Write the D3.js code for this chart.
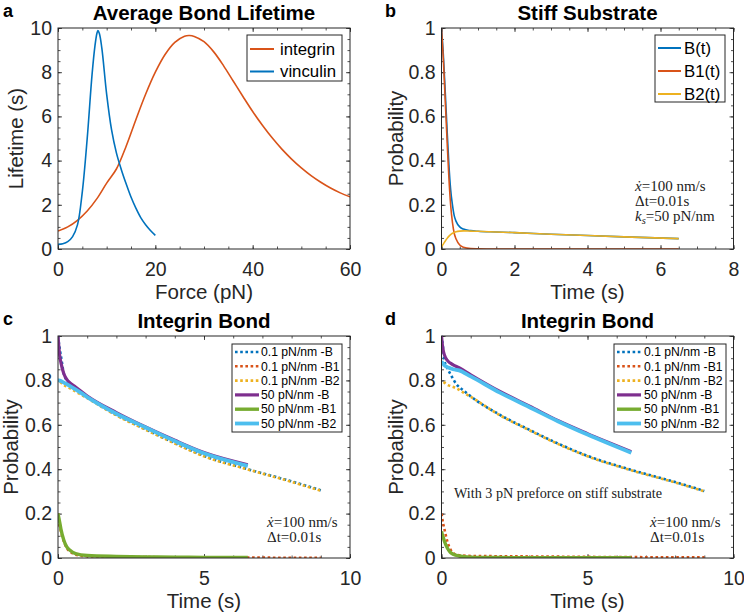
<!DOCTYPE html>
<html><head><meta charset="utf-8">
<script src="https://cdn.jsdelivr.net/npm/d3@7"></script>
<style>body{margin:0;background:#fff}svg{display:block}</style>
</head><body>
<svg id="c" width="744" height="613"></svg>
<script>
// ---------- DATA ----------
// Panel a
const intForce = [0,2,4,6,8,10,12,14,16,18,20,22,24,26,27,28,30,32,34,36,38,40,42,44,46,48,50,52,54,56,58,60];
const intLife  = [0.81,1.0,1.3,1.72,2.28,2.98,3.62,4.65,5.85,7.0,8.0,8.8,9.35,9.63,9.66,9.62,9.38,8.92,8.3,7.6,6.9,6.22,5.6,5.03,4.52,4.07,3.67,3.32,3.02,2.76,2.54,2.36];
const vinForce = [0,1,2,3,4,5,6,7,7.6,8,8.2,8.5,9,10,11,12,13,14,15,16,17,18,19,20];
const vinLife  = [0.21,0.24,0.33,0.56,1.09,2.6,5.0,7.9,9.2,9.76,9.88,9.75,9.1,7.0,5.4,4.35,3.6,2.95,2.35,1.85,1.42,1.1,0.84,0.62];
const legendA = ["integrin","vinculin"];
// Panel b
const tB   = [0,0.05,0.1,0.15,0.2,0.25,0.3,0.35,0.4,0.5,0.6,0.8,1,1.5,2,3,4,5,6.5];
const bB   = [1.0,0.88,0.72,0.55,0.39,0.27,0.2,0.15,0.125,0.1,0.09,0.083,0.08,0.077,0.074,0.067,0.061,0.055,0.047];
const bB1  = [1.0,0.86,0.68,0.5,0.33,0.2,0.12,0.07,0.045,0.018,0.008,0.002,0.001,0,0,0,0,0,0];
const bB2  = [0.01,0.022,0.035,0.047,0.057,0.065,0.071,0.075,0.078,0.081,0.082,0.081,0.08,0.077,0.074,0.067,0.061,0.055,0.047];
const legendB = ["B(t)","B1(t)","B2(t)"];
// Panel c
const tC01  = [0,0.05,0.1,0.2,0.3,0.4,0.6,1,2,3,4,5,6.5,8,9];
const c01B  = [1.0,0.95,0.91,0.83,0.8,0.785,0.765,0.725,0.645,0.58,0.518,0.46,0.40,0.345,0.305];
const c01B1 = [0.2,0.15,0.12,0.075,0.045,0.03,0.015,0.008,0.005,0.004,0.003,0.002,0.002,0.001,0.001];
const c01B2 = [0.8,0.797,0.79,0.78,0.772,0.765,0.75,0.72,0.642,0.578,0.516,0.458,0.399,0.343,0.303];
const tC50  = [0,0.03,0.06,0.1,0.2,0.3,0.4,0.6,1,2,3,4,5,6.5];
const c50B  = [1.0,0.95,0.91,0.88,0.83,0.805,0.79,0.77,0.73,0.655,0.59,0.53,0.475,0.42];
const c50B1 = [0.2,0.18,0.16,0.13,0.08,0.05,0.036,0.02,0.011,0.007,0.005,0.004,0.003,0.002];
const c50B2 = [0.8,0.8,0.799,0.797,0.79,0.783,0.775,0.76,0.725,0.65,0.588,0.527,0.472,0.415];
// Panel d
const tD01  = [0,0.05,0.1,0.2,0.3,0.5,0.75,1,2,3,4,5,6.5,8,9];
const d01B  = [1.0,0.95,0.89,0.855,0.83,0.785,0.755,0.728,0.645,0.578,0.515,0.46,0.397,0.342,0.302];
const d01B1 = [0.2,0.16,0.13,0.075,0.04,0.015,0.011,0.009,0.008,0.007,0.006,0.005,0.004,0.003,0.003];
const d01B2 = [0.8,0.795,0.79,0.78,0.775,0.765,0.745,0.726,0.643,0.576,0.513,0.458,0.395,0.34,0.3];
const tD50  = [0,0.03,0.06,0.1,0.2,0.3,0.4,0.6,1,2,3,4,5,6.5];
const d50B  = [1.0,0.96,0.935,0.915,0.89,0.878,0.87,0.857,0.825,0.75,0.685,0.618,0.56,0.479];
const d50B1 = [0.12,0.105,0.093,0.075,0.045,0.026,0.017,0.009,0.004,0.002,0.0015,0.001,0.001,0.001];
const d50B2 = [0.885,0.88,0.875,0.868,0.86,0.855,0.85,0.845,0.818,0.745,0.68,0.615,0.556,0.474];
const legendCD = ["0.1 pN/nm -B","0.1 pN/nm -B1","0.1 pN/nm -B2","50 pN/nm -B","50 pN/nm -B1","50 pN/nm -B2"];
// tick values
const ticksA_x = [0,20,40,60], ticksA_y = [0,2,4,6,8,10];
const ticksB_x = [0,2,4,6,8], ticksP_y = [0,0.2,0.4,0.6,0.8,1];
const ticksCD_x = [0,5,10];

// ---------- DRAW ----------
const C = {blue:"#0072BD",orange:"#D95319",yellow:"#EDB120",purple:"#7E2F8E",green:"#77AC30",cyan:"#4DBEEE"};
const svg = d3.select("#c");
const SANS = "'Liberation Sans', Arial, Helvetica, sans-serif";
const SERIF = "'Liberation Serif','DejaVu Serif',serif";
const AX = "#262626";
const TICKFS = 19.5, LABFS = 20.5, TITFS = 20.5;

function range(a,b,s){const o=[];for(let v=a;v<=b+1e-9;v+=s)o.push(+v.toFixed(6));return o;}

function panel(cfg){
  const g = svg.append("g");
  const x = d3.scaleLinear().domain(cfg.xd).range([cfg.l,cfg.r]);
  const y = d3.scaleLinear().domain(cfg.yd).range([cfg.b,cfg.t]);
  const fmt = d3.format("~g");
  const ax = (gen, tv, size, labels, tr, pad) => {
    const a = g.append("g").attr("transform",tr)
      .call(gen.tickValues(tv).tickSize(size).tickPadding(pad||0).tickFormat(labels?fmt:""));
    a.select(".domain").remove();
    a.selectAll("line").attr("stroke",AX).attr("stroke-width",0.8);
    a.selectAll("text").attr("fill",AX).attr("font-family",SANS).attr("font-size",TICKFS);
    return a;
  };
  const W = cfg.r-cfg.l, H = cfg.b-cfg.t;
  // minor
  ax(d3.axisBottom(x), cfg.xm, -2.5, false, `translate(0,${cfg.b})`);
  ax(d3.axisTop(x), cfg.xm, -2.5, false, `translate(0,${cfg.t})`);
  ax(d3.axisLeft(y), cfg.ym, -2.5, false, `translate(${cfg.l},0)`);
  ax(d3.axisRight(y), cfg.ym, -2.5, false, `translate(${cfg.r},0)`);
  // major
  ax(d3.axisBottom(x), cfg.xt, -4, true, `translate(0,${cfg.b})`, 13.5);
  ax(d3.axisTop(x), cfg.xt, -4, false, `translate(0,${cfg.t})`);
  ax(d3.axisLeft(y), cfg.yt, -4, true, `translate(${cfg.l},0)`, 6);
  ax(d3.axisRight(y), cfg.yt, -4, false, `translate(${cfg.r},0)`);
  // clip
  const id = "clip"+cfg.label;
  svg.append("clipPath").attr("id",id).append("rect").attr("x",cfg.l).attr("y",cfg.t-2).attr("width",W).attr("height",H+2);
  const lg = g.append("g").attr("clip-path",`url(#${id})`);
  const line = d3.line().x(d=>x(d[0])).y(d=>y(d[1])).curve(cfg.curve||d3.curveMonotoneX);
  cfg.series.forEach(s=>{
    lg.append("path").datum(d3.zip(s.x,s.y)).attr("d",line).attr("fill","none")
      .attr("stroke",s.color).attr("stroke-width",s.w)
      .attr("stroke-dasharray",s.dash||null).attr("stroke-dashoffset",s.off||0)
      .attr("stroke-linejoin","round");
  });
  // box
  g.append("rect").attr("x",cfg.l).attr("y",cfg.t).attr("width",W).attr("height",H)
    .attr("fill","none").attr("stroke",AX).attr("stroke-width",1);
  // title / labels
  g.append("text").attr("x",(cfg.l+cfg.r)/2).attr("y",cfg.t-8.5).attr("text-anchor","middle")
    .attr("font-family",SANS).attr("font-weight","bold").attr("font-size",TITFS).text(cfg.title);
  g.append("text").attr("x",cfg.lx).attr("y",cfg.t-11)
    .attr("font-family",SANS).attr("font-weight","bold").attr("font-size",18).text(cfg.label);
  g.append("text").attr("x",(cfg.l+cfg.r)/2).attr("y",cfg.b+50).attr("text-anchor","middle")
    .attr("fill",AX).attr("font-family",SANS).attr("font-size",LABFS).text(cfg.xlabel);
  g.append("text").attr("transform",`translate(${cfg.ylx},${(cfg.t+cfg.b)/2}) rotate(-90)`).attr("text-anchor","middle")
    .attr("fill",AX).attr("font-family",SANS).attr("font-size",LABFS).text(cfg.ylabel);
  // legend
  const L = cfg.legend;
  const lgd = g.append("g");
  lgd.append("rect").attr("x",L.x).attr("y",L.y).attr("width",L.w).attr("height",L.h)
    .attr("fill","#fff").attr("stroke",AX).attr("stroke-width",1);
  cfg.series.forEach((s,i)=>{
    const yy = L.y0 + i*L.dy;
    lgd.append("line").attr("x1",L.x+3).attr("x2",L.x+3+L.len).attr("y1",yy).attr("y2",yy)
      .attr("stroke",s.color).attr("stroke-width",s.lw||s.w).attr("stroke-dasharray",s.dash||null);
    lgd.append("text").attr("x",L.x+L.tx).attr("y",yy).attr("dy","0.35em")
      .attr("font-family",SANS).attr("font-size",L.fs).attr("fill","#000").text(L.names[i]);
  });
  return {x,y,g};
}

function annot(xp, yp, lines, fs){
  const t = svg.append("text").attr("font-family",SERIF).attr("font-size",fs||15).attr("fill","#222");
  lines.forEach((ln,i)=>{
    const tt = t.append("tspan").attr("x",xp).attr("y",yp+i*15.2);
    ln.forEach(p=>{
      const sp = tt.append("tspan").text(p.t);
      if(p.i) sp.attr("font-style","italic");
      if(p.sub) sp.attr("font-size",10.5).attr("dy",3);
      if(p.up) sp.attr("dy",-3);
    });
  });
}
const xdotLine = [{t:"ẋ",i:true},{t:"=100 nm/s"}];
const dtLine = [{t:"Δt=0.01s"}];
const ksLine = [{t:"k",i:true},{t:"s",i:true,sub:true},{t:"=50 pN/nm",up:true}];

// Panel a
panel({l:58,r:350,t:28,b:249,lx:3,ylx:23,xd:[0,60],yd:[0,10],curve:d3.curveCatmullRom,
  xt:ticksA_x,xm:range(0,60,5),yt:ticksA_y,ym:range(0,10,0.5),
  title:"Average Bond Lifetime",label:"a",xlabel:"Force (pN)",ylabel:"Lifetime (s)",
  series:[{x:intForce,y:intLife,color:C.orange,w:1.6,lw:2},{x:vinForce,y:vinLife,color:C.blue,w:1.6,lw:2}],
  legend:{x:247,y:35,w:95,h:46,y0:49,dy:22.5,len:24,tx:33,fs:16.8,names:legendA}});
// Panel b
panel({l:441.5,r:733.5,t:28,b:249,lx:385,ylx:403,xd:[0,8],yd:[0,1],
  xt:ticksB_x,xm:range(0,8,0.5),yt:ticksP_y,ym:range(0,1,0.05),
  title:"Stiff Substrate",label:"b",xlabel:"Time (s)",ylabel:"Probability",
  series:[{x:tB,y:bB,color:C.blue,w:1.6,lw:2},{x:tB,y:bB1,color:C.orange,w:1.6,lw:2},{x:tB,y:bB2,color:C.yellow,w:1.6,lw:2}],
  legend:{x:655,y:35,w:70,h:67,y0:48,dy:23,len:23,tx:29,fs:16.8,names:legendB}});
annot(635,191,[xdotLine,dtLine,ksLine]);

function cdSeries(t01,b,b1,b2,t50,p,p1,p2){
  return [
    {x:t01,y:b,color:C.blue,w:2.6,dash:"2.6 2.6"},
    {x:t01,y:b1,color:C.orange,w:2.6,dash:"2.6 2.6"},
    {x:t01,y:b2,color:C.yellow,w:2.6,dash:"2.6 2.6",off:2.6},
    {x:t50,y:p,color:C.purple,w:3.2},
    {x:t50,y:p1,color:C.green,w:3.4},
    {x:t50,y:p2,color:C.cyan,w:3.8}
  ];
}
// Panel c
panel({l:58,r:350,t:336,b:558,lx:3,ylx:18,xd:[0,10],yd:[0,1],
  xt:ticksCD_x,xm:range(0,10,1),yt:ticksP_y,ym:range(0,1,0.05),
  title:"Integrin Bond",label:"c",xlabel:"Time (s)",ylabel:"Probability",
  series:cdSeries(tC01,c01B,c01B1,c01B2,tC50,c50B,c50B1,c50B2),
  legend:{x:232,y:344,w:110,h:88,y0:352,dy:14.3,len:24,tx:29,fs:12.2,names:legendCD}});
annot(267,527,[xdotLine,dtLine]);
// Panel d
panel({l:441.5,r:733.5,t:336,b:558,lx:385,ylx:403,xd:[0,10],yd:[0,1],
  xt:ticksCD_x,xm:range(0,10,1),yt:ticksP_y,ym:range(0,1,0.05),
  title:"Integrin Bond",label:"d",xlabel:"Time (s)",ylabel:"Probability",
  series:cdSeries(tD01,d01B,d01B1,d01B2,tD50,d50B,d50B1,d50B2),
  legend:{x:614,y:344,w:112,h:88,y0:352,dy:14.3,len:24,tx:30,fs:12.2,names:legendCD}});
annot(650,527,[xdotLine,dtLine]);
annot(454,498,[[{t:"With 3 pN preforce on stiff substrate"}]],14.2);
</script>
</body></html>
